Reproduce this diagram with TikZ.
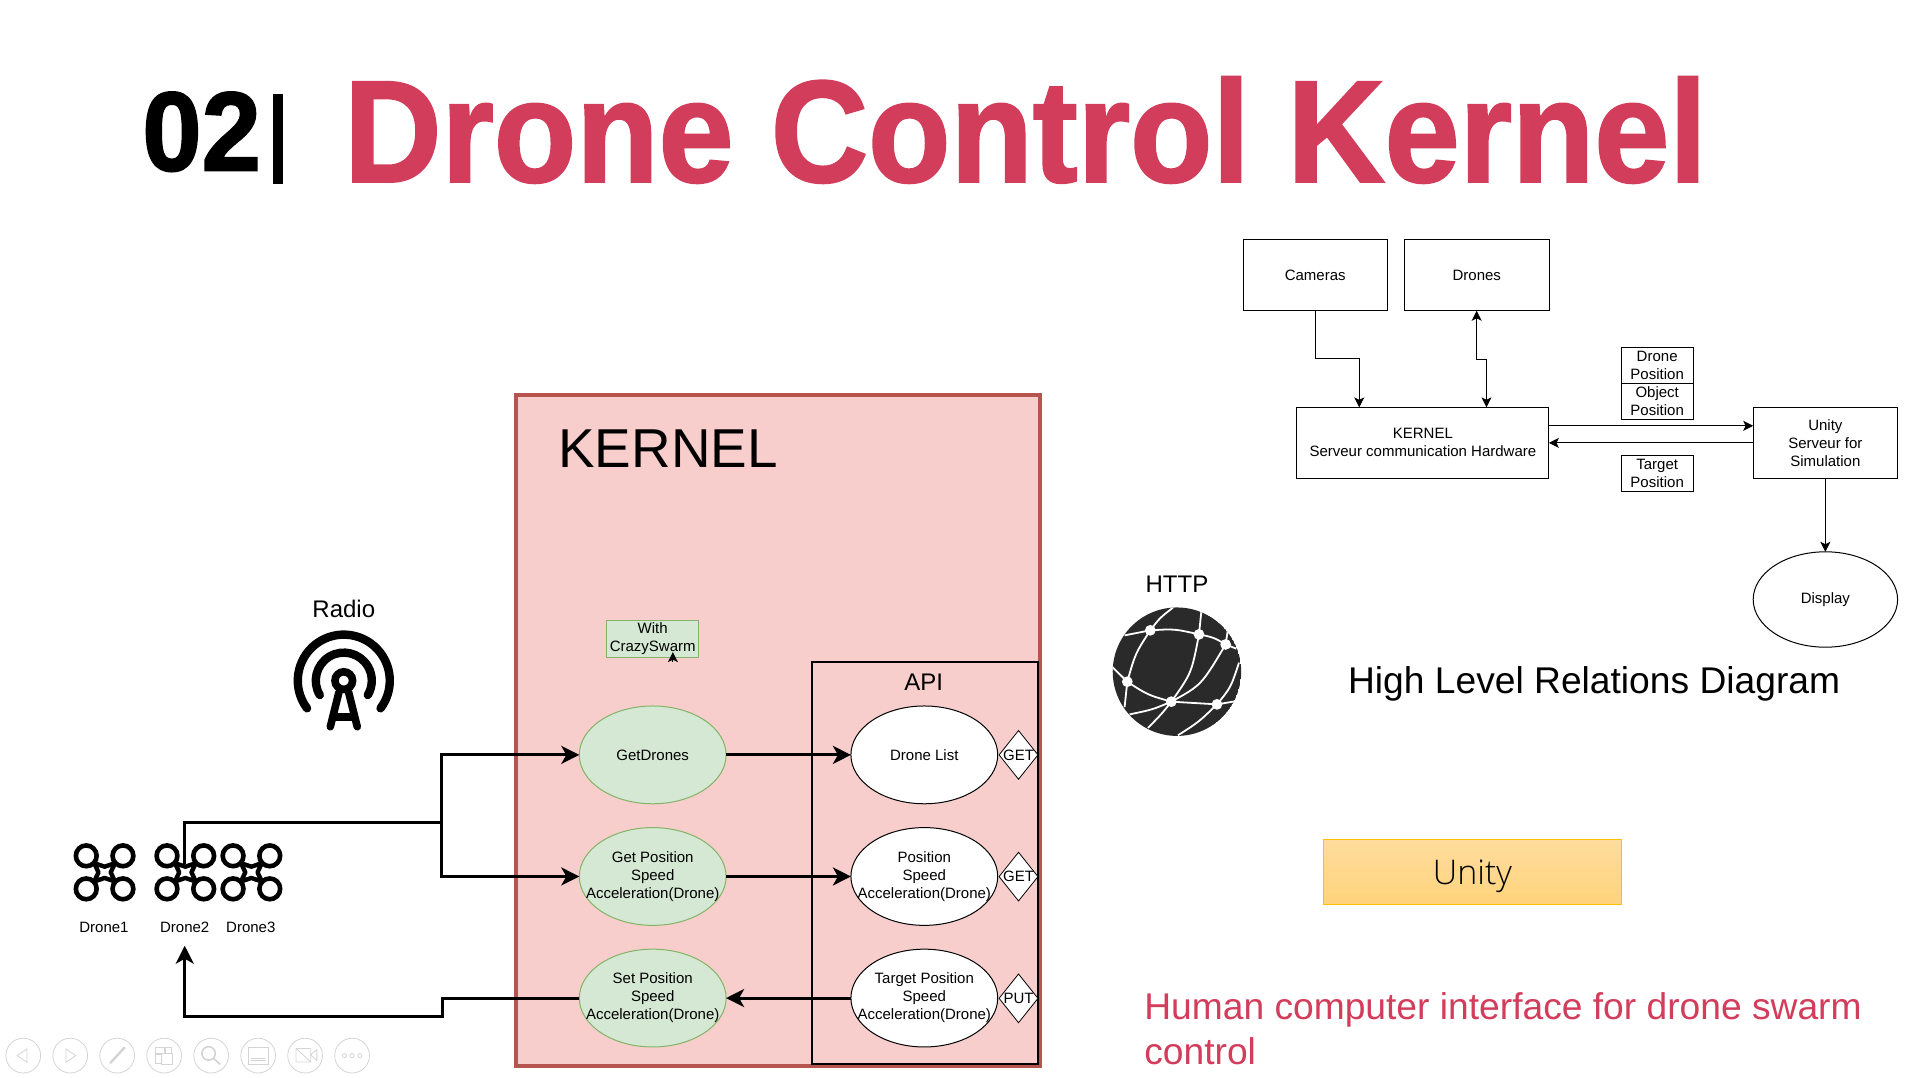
\documentclass[tikz,border=0pt]{standalone}
\usepackage{fontspec}
\setmainfont{Liberation Sans}
\newfontfamily\titlefont[BoldFeatures={FakeBold=1.6}]{Liberation Sans}
\newfontfamily\unityfont{Open Sans Light}
\usepackage{xcolor}
\usepackage{tikz}
\usetikzlibrary{shapes.geometric, arrows.meta, positioning}

\definecolor{titlered}{HTML}{D33D5C}
\definecolor{kernelfill}{HTML}{F8CECC}
\definecolor{kerneldraw}{HTML}{B85450}
\definecolor{funcfill}{HTML}{D5E8D4}
\definecolor{funcdraw}{HTML}{82B366}
\definecolor{globedark}{HTML}{2A2A2A}
\definecolor{toolgray}{HTML}{D4D4D4}
\definecolor{unitydraw}{HTML}{FFC000}
\definecolor{unitytop}{HTML}{FFDC9E}
\definecolor{unitybottom}{HTML}{FFD47C}

\tikzset{
    pics/droneicon/.style = {code = {
        \foreach \dx in {-15,15} \foreach \dy in {-13.5,13.5}
            \draw[line width=2.3pt] (\dx,\dy) circle[radius=8.5];
        \draw[line width=2.2pt, fill=white, line join=round] (-8.5,-7.5) -- (0,-4.6) -- (8.5,-7.5) -- (5,0) -- (8.5,7.5) -- (0,4.6) -- (-8.5,7.5) -- (-5,0) -- cycle;
    }}
}

\begin{document}
\begin{tikzpicture}  [
        x = 0.61175pt, y = -0.61175pt,
        node distance = 11.9pt,
        smalltext/.style = {font=\fontsize{7.5}{9}\selectfont, align=center, inner sep=0pt},
        funcnode/.style = {ellipse, draw=funcdraw, fill=funcfill, line width=.5pt, minimum width=73.4pt, minimum height=48.9pt, smalltext, inner xsep=-9pt, inner ysep=-3pt, outer sep=0pt},
        apinode/.style = {ellipse, draw, fill=white, line width=.5pt, minimum width=73.4pt, minimum height=48.9pt, smalltext, inner xsep=-9pt, inner ysep=-3pt, outer sep=0pt},
        verb/.style = {diamond, draw, fill=white, line width=.4pt, minimum width=19.6pt, minimum height=24.5pt, smalltext},
        plainbox/.style = {rectangle, draw, line width=.5pt, minimum width=72.2pt, minimum height=35.5pt, smalltext, outer sep=0pt},
        tagbox/.style = {rectangle, draw, line width=.5pt, minimum width=36.1pt, minimum height=18pt, smalltext, outer sep=0pt},
        thickline/.style = {line width=1.5pt},
        thickarrow/.style = {line width=1.5pt, -{Stealth[length=9pt, width=9pt, inset=2.5pt]}},
        thinarrow/.style = {line width=.5pt, -{Stealth[length=5pt, width=5pt, inset=1.2pt]}},
        thinboth/.style = {line width=.5pt, {Stealth[length=5pt, width=5pt, inset=1.2pt]}-{Stealth[length=5pt, width=5pt, inset=1.2pt]}},
        netline/.style = {white, line width=.9pt},
        tool/.style = {toolgray, line width=.4pt}
    ]

    \useasboundingbox (0,0) rectangle (1567.7,880.3);

    % title
    \node[inner sep=0pt, anchor=south west] (num) at (116,140.6) {\resizebox{59.3pt}{39.3pt}{\titlefont\bfseries 02}};
    \node[rectangle, fill=black, inner sep=0pt, minimum width=5pt, minimum height=45pt] (bar) at (227.5,114) {};
    \node[inner sep=0pt, anchor=south west, text=titlered] (title) at (281,150) {\resizebox{681pt}{52.5pt}{\titlefont\bfseries Drone Control Kernel}};

    % kernel and api
    \node[rectangle, draw=kerneldraw, fill=kernelfill, line width=1.75pt, outer sep=0pt, minimum width=262pt, minimum height=335.5pt] (kernel) at (636,597) {};
    \node[inner sep=0pt, font=\fontsize{27.4}{30}\selectfont] (kerneltext) at (546,367) {KERNEL};
    \node[rectangle, draw, line width=1pt, outer sep=0pt, minimum width=113.2pt, minimum height=200.8pt] (api) at (756.3,705.5) {};
    \node[inner sep=0pt, font=\fontsize{12}{14}\selectfont] (apitext) at (755,557.5) {API};

    \node[funcnode] (getdrones) at (533.5,617) {GetDrones};
    \node[funcnode, below = of getdrones] (getpos) {Get Position\\Speed\\Acceleration(Drone)};
    \node[funcnode, below = of getpos]    (setpos) {Set Position\\Speed\\Acceleration(Drone)};

    \node[apinode] (dronelist) at (755.5,617) {Drone List};
    \node[apinode, below = of dronelist] (position) {Position\\Speed\\Acceleration(Drone)};
    \node[apinode, below = of position]  (target)   {Target Position\\Speed\\Acceleration(Drone)};

    \node[verb] (verba) at (832.5,617)   {\makebox[0pt]{GET}};
    \node[verb] (verbb) at (832.5,716.5) {\makebox[0pt]{GET}};
    \node[verb] (verbc) at (832.5,816)   {\makebox[0pt]{PUT}};

    \node[rectangle, draw=funcdraw, fill=funcfill, line width=.5pt, minimum width=46pt, minimum height=18.4pt, smalltext] (crazy) at (533.5,522) {With\\CrazySwarm};
    \coordinate (crazytail) at (550,533);
    \draw[line width=.5pt, -{Stealth[length=5pt, width=5pt, inset=1.2pt]}] (550,541) -- (crazytail);

    % drones and radio
    \pic at (85.5,713)  {droneicon};
    \pic at (151.5,713) {droneicon};
    \pic at (205.5,713) {droneicon};
    \node[smalltext] (drone1) at (85,758)  {Drone1};
    \node[smalltext] (drone2) at (151,758) {Drone2};
    \node[smalltext] (drone3) at (205,758) {Drone3};

    \node[inner sep=0pt, font=\fontsize{12}{14}\selectfont] (radio) at (281,497.5) {Radio};
    \draw[line width=4.2pt, line cap=round] ([shift={(217:23pt)}]281,556.3) arc[start angle=217, end angle=-37, radius=23pt];
    \draw[line width=4.2pt, line cap=round] ([shift={(211:14pt)}]281,556.3) arc[start angle=211, end angle=-31, radius=14pt];
    \draw[line width=3.8pt] (281,556.3) circle[radius=7.2];
    \draw[line width=3.8pt, line cap=round, line join=round] (270,594) -- (277,566) (292,594) -- (285,566) (272,586) -- (290,586);

    % connectors
    \coordinate (droneout) at (150.5,706);
    \coordinate (split) at (361,672);
    \coordinate (bend) at (361.5,831);
    \coordinate (dronein) at (151,773);

    \draw[thickline] (droneout) |- (split);
    \draw[thickarrow] (split) |- (getdrones);
    \draw[thickarrow] (split) |- (getpos);
    \draw[thickarrow] (setpos) -| (bend) -| (dronein);

    \draw[thickarrow] (getdrones) -- (dronelist);
    \draw[thickarrow] (getpos) -- (position);
    \draw[thickarrow] (target) -- (setpos);

    % high level relations
    \node[plainbox] (cameras) at (1075,225) {Cameras};
    \node[plainbox, right = 8.6pt of cameras] (drones) {Drones};
    \node[plainbox, minimum width=126pt] (kernelbox) at (1163,362) {KERNEL\\Serveur communication Hardware};
    \node[plainbox] (unity) at (1492,362) {Unity\\Serveur for\\Simulation};
    \node[ellipse, draw, line width=.5pt, minimum width=72.2pt, minimum height=47.7pt, smalltext, outer sep=0pt] (display) at (1492,490) {Display};

    \node[tagbox] (dronepos) at (1354.5,298.7) {Drone\\Position};
    \node[tagbox, below = 0pt of dronepos] (objpos) {Object\\Position};
    \node[tagbox] (targetpos) at (1354.5,386.7) {Target\\Position};

    \coordinate (cambend) at (1111,293);
    \coordinate (kernelina) at (1111,333);
    \coordinate (dronebend) at (1215,294);
    \coordinate (kernelinb) at (1215,333);
    \coordinate (dronetop) at (1207,254);

    \draw[thinarrow] (cameras.south) |- (cambend) -- (kernelina);
    \draw[thinboth] (dronetop) |- (dronebend) -- (kernelinb);
    \draw[thinarrow] (kernelbox.east |- 0,348) -- (unity.west |- 0,348);
    \draw[thinarrow] (unity.west |- 0,362) -- (kernelbox.east |- 0,362);
    \draw[thinarrow] (unity) -- (display);

    \node[inner sep=0pt, font=\fontsize{18.6}{22}\selectfont] (relations) at (1303,559) {High Level Relations Diagram};

    % http globe
    \node[inner sep=0pt, font=\fontsize{12}{14}\selectfont] (http) at (962,477.5) {HTTP};
    \begin{scope}
        \clip (962,549) circle[radius=52.5];
        \fill[globedark] (962,549) circle[radius=52.5];
        \draw[netline] (940.2,515.2) .. controls (948,505) .. (958.7,496.7);
        \draw[netline] (940.2,515.2) -- (919.2,519.3);
        \draw[netline] (940.2,515.2) .. controls (960,514) .. (980,518.5);
        \draw[netline] (980,518.5) .. controls (992,521) .. (1001.8,526.7);
        \draw[netline] (1001.8,526.7) -- (1010.5,530.2);
        \draw[netline] (980,518.5) -- (981.9,500);
        \draw[netline] (1001.8,526.7) -- (1003.7,514);
        \draw[netline] (940.2,515.2) .. controls (928,534) .. (921.4,557.2);
        \draw[netline] (921.4,557.2) -- (908,544);
        \draw[netline] (921.4,557.2) .. controls (938,568) .. (957.4,573.5);
        \draw[netline] (921.4,557.2) -- (919.2,578);
        \draw[netline] (957.4,573.5) .. controls (974,550) .. (980,518.5);
        \draw[netline] (957.4,573.5) .. controls (982,560) .. (1001.8,526.7);
        \draw[netline] (957.4,573.5) .. controls (976,575) .. (994.7,575.7);
        \draw[netline] (994.7,575.7) -- (1011,573);
        \draw[netline] (957.4,573.5) .. controls (942,580) .. (923.3,583.9);
        \draw[netline] (957.4,573.5) .. controls (950,583) .. (938.3,595);
        \draw[netline] (994.7,575.7) .. controls (980,590) .. (962.8,601);
        \draw[netline] (994.7,575.7) .. controls (1006,562) .. (1012.7,541.6);
        \foreach \px/\py in {940.2/515.2, 980/518.5, 1001.8/526.7, 921.4/557.2, 957.4/573.5, 994.7/575.7}
            \fill[white] (\px,\py) circle[radius=4.4];
    \end{scope}

    % unity bar and caption
    \node[rectangle, draw=unitydraw, top color=unitytop, bottom color=unitybottom, line width=.5pt, minimum width=148.7pt, minimum height=32.4pt, inner sep=0pt, font=\unityfont\fontsize{17}{20}\selectfont, text=black, text depth=0pt] (unitybar) at (1203.5,712.5) {Unity};
    \node[inner sep=0pt, anchor=west, text=titlered, font=\fontsize{18.6}{22.6}\selectfont, align=left] (caption) at (935,840.5) {Human computer interface for drone swarm\\control};

    % slideshow toolbar
    \foreach \i in {0,...,7}
        \draw[tool] (19+38.4*\i,862.8) circle[radius=14.2];
    \draw[tool] (22,857.4) -- (14,862.8) -- (22,868.2) -- cycle;
    \draw[tool] (54,857.4) -- (62,862.8) -- (54,868.2) -- cycle;
    \draw[tool, line width=1.2pt] (90,869) -- (102,856);
    \draw[tool] (127,856) rectangle (134,861) (135.5,856) rectangle (140,861) (127,862) rectangle (132,869) (132,861) rectangle (141,870);
    \draw[tool, line width=.8pt] (170.5,861) circle[radius=5.5] (174.5,865) -- (180,870);
    \draw[tool] (203,856) rectangle (219,870) (205,865) -- (217,865) (205,867) -- (217,867);
    \draw[tool] (242,857) rectangle (254,868) (242,857) -- (254,868) (254,862) -- (259,858) -- (259,867) -- cycle;
    \draw[tool] (281.5,862.8) circle[radius=1.7] (287.8,862.8) circle[radius=1.7] (294.1,862.8) circle[radius=1.7];

\end{tikzpicture}
\end{document}
